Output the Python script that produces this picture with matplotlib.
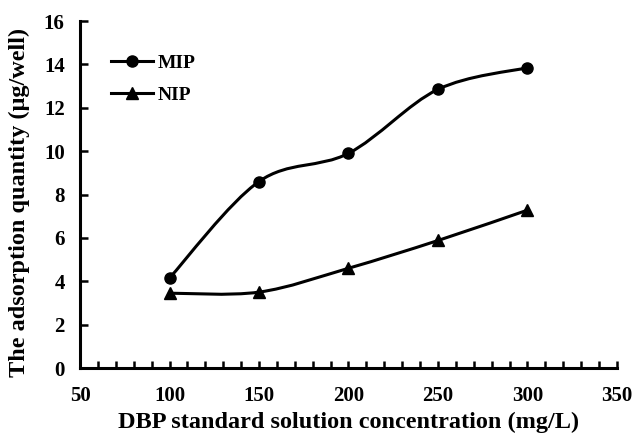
import numpy as np
import matplotlib
matplotlib.use("Agg")
import matplotlib.pyplot as plt
from matplotlib.path import Path
from matplotlib.patches import PathPatch
from matplotlib.lines import Line2D
from matplotlib.ticker import MultipleLocator

plt.rcParams['font.family'] = ['Liberation Serif', 'DejaVu Serif']
plt.rcParams['font.weight'] = 'bold'

conc = [100, 150, 200, 250, 300]
mip = [4.15, 8.6, 9.9, 12.85, 13.85]
nip = [3.45, 3.5, 4.6, 5.88, 7.28]


def smooth_path(x, y):
    # excel-like smoothed line: cubic bezier with catmull-rom control points
    p = np.column_stack([x, y]).astype(float)
    n = len(p)
    verts = [p[0]]
    codes = [Path.MOVETO]
    for i in range(n - 1):
        p0 = p[i - 1] if i > 0 else p[i]
        p3 = p[i + 2] if i + 2 < n else p[i + 1]
        c1 = p[i] + (p[i + 1] - p0) / 6.0
        c2 = p[i + 1] - (p3 - p[i]) / 6.0
        verts += [c1, c2, p[i + 1]]
        codes += [Path.CURVE4] * 3
    return Path(verts, codes)


fig = plt.figure(figsize=(6.36, 4.40), dpi=100)
ax = fig.add_axes([0.1258, 0.1636, 0.8443, 0.7886])

for ys, mk in [(mip, 'o'), (nip, '^')]:
    ax.add_patch(PathPatch(smooth_path(conc, ys), fill=False, lw=2.2, color='black'))
    ax.plot(conc, ys, linestyle='none', marker=mk, ms=8, color='black')

handles = [Line2D([], [], color='black', lw=2.2, marker='o', ms=8),
           Line2D([], [], color='black', lw=2.2, marker='^', ms=8)]
ax.legend(handles, ['MIP', 'NIP'], loc='upper left', bbox_to_anchor=(0.039, 0.932),
          frameon=False, handlelength=2.2, handletextpad=0.2,
          labelspacing=0.75, borderpad=0, prop={'weight': 'bold', 'size': 14})

ax.set_xlim(50, 350)
ax.set_ylim(0, 16)
ax.xaxis.set_major_locator(MultipleLocator(50))
ax.xaxis.set_minor_locator(MultipleLocator(10))
ax.yaxis.set_major_locator(MultipleLocator(2))
ax.tick_params(axis='both', which='both', direction='in', width=1.8, labelsize=15)
ax.tick_params(axis='x', which='both', length=5, pad=13)
ax.tick_params(axis='y', which='major', length=6, pad=11)

for s in ['top', 'right']:
    ax.spines[s].set_visible(False)
for s in ['left', 'bottom']:
    ax.spines[s].set_linewidth(2.2)

ax.set_xlabel('DBP standard solution concentration (mg/L)', fontsize=17.5, fontweight='bold', labelpad=4)
ax.set_ylabel('The adsorption quantity (\u03bcg/well)', fontsize=17.5, fontweight='bold')
ax.yaxis.set_label_coords(-0.093, 0.478)

fig.savefig('out.png', dpi=100)
